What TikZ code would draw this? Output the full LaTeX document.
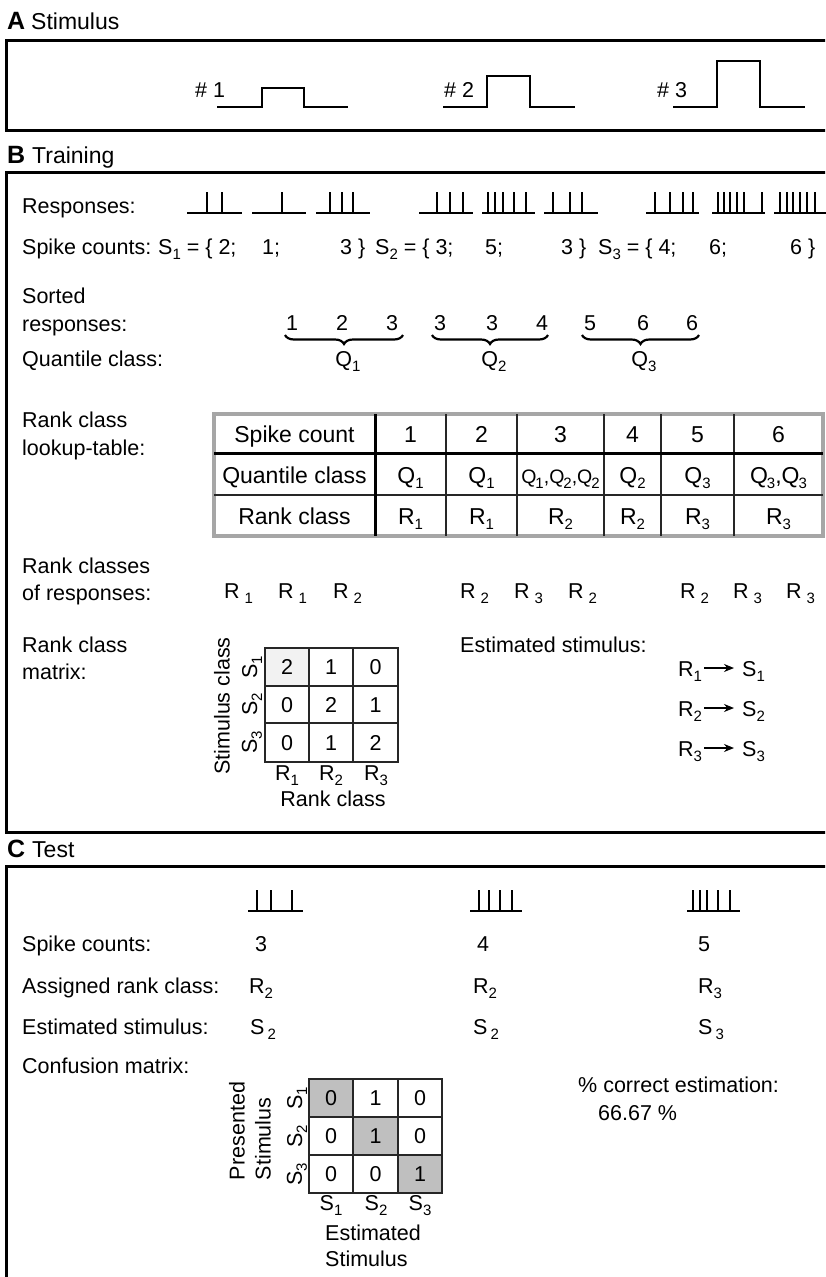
\documentclass[tikz,border=0pt]{standalone}
\usepackage{fontspec}
\setmainfont{Liberation Sans}
\usetikzlibrary{decorations.pathreplacing,arrows.meta,calc}
\newcommand{\mysub}[1]{\raisebox{-5pt}{\fontsize{15}{15}\selectfont #1}}
\newcommand{\spiketrain}[4]{%
  \draw[spk] (#1,#3) -- (#2,#3);
  \foreach \s in {#4} {\draw[spk] (\s,#3) -- (\s,#3-21);}}
\begin{document}
\begin{tikzpicture}[x=1pt,y=-1pt,
  txt/.style={anchor=base west, inner sep=0pt, font=\fontsize{21.5}{25}\selectfont},
  ctxt/.style={anchor=base, inner sep=0pt, font=\fontsize{21.5}{25}\selectfont},
  tbl/.style={anchor=base, inner sep=0pt, font=\fontsize{23}{26}\selectfont},
  ttl/.style={anchor=base west, inner sep=0pt, font=\fontsize{23}{26}\selectfont},
  ttlb/.style={anchor=base west, inner sep=0pt, font=\fontsize{25}{26}\selectfont\bfseries},
  panel/.style={line width=3pt},
  wave/.style={line width=2.8pt},
  spk/.style={line width=2.6pt},
  grid/.style={line width=1.1pt, draw=black!85},
  brc/.style={line width=2.2pt, decorate, decoration={brace, mirror, amplitude=9pt}},
  arr/.style={line width=1.3pt, -{Stealth[length=10pt,width=8pt]}}]
\useasboundingbox (0,0) rectangle (825,1277);
\fill[white] (0,0) rectangle (825,1277);
% panel frames
\begin{scope}
\clip (0,0) rectangle (825,1277);
\draw[panel] (6,40) rectangle (845,130);
\draw[panel] (6,172) rectangle (845,832);
\draw[panel] (6,866) rectangle (845,1300);
\end{scope}
% ---------- A ----------
\node[ttlb] (tA) at (7,29) {A};
\node[ttl] (tAs) at (31,29) {Stimulus};
\node[txt] (n1) at (195,97) {\# 1};
\node[txt] (n2) at (444,97) {\# 2};
\node[txt] (n3) at (657,97) {\# 3};
\draw[wave] (217,107) -- (262,107) -- (262,88) -- (304,88) -- (304,107) -- (348,107);
\draw[wave] (443,107) -- (487,107) -- (487,76) -- (530,76) -- (530,107) -- (575,107);
\draw[wave] (673,107) -- (717,107) -- (717,61) -- (760,61) -- (760,107) -- (805,107);
% ---------- B ----------
\node[ttlb] (tB) at (7,163) {B};
\node[ttl] (tBs) at (32,163) {Training};
\node[txt] (lresp) at (22,213) {Responses:};
\spiketrain{187}{242}{213}{207,222}
\spiketrain{252}{306}{213}{282}
\spiketrain{316}{370}{213}{330,342,353}
\spiketrain{419}{473}{213}{437,450,463}
\spiketrain{482}{535}{213}{488,495,503,514,526}
\spiketrain{544}{598}{213}{553,570,582}
\spiketrain{646}{699}{213}{655,670,683,693}
\spiketrain{712}{765}{213}{718,724,730,737,744,762}
\spiketrain{774}{830}{213}{780,787,793,800,807,815}
\node[txt] (lsc) at (22,254) {Spike counts:};
\node[txt] (sc1a) at (158,254) {S\mysub{1} = \{ 2;};
\node[txt] (sc1b) at (262,254) {1;};
\node[txt] (sc1c) at (340,254) {3 \}};
\node[txt] (sc2a) at (375,254) {S\mysub{2} = \{ 3;};
\node[txt] (sc2b) at (485,254) {5;};
\node[txt] (sc2c) at (561,254) {3 \}};
\node[txt] (sc3a) at (598,254) {S\mysub{3} = \{ 4;};
\node[txt] (sc3b) at (709,254) {6;};
\node[txt] (sc3c) at (790,254) {6 \}};
\node[txt] (lsort1) at (22,303) {Sorted};
\node[txt] (lsort2) at (22,331) {responses:};
\foreach \x/\v [count=\i] in {292/1,342/2,392/3,440/3,492/3,542/4,590/5,643/6,692/6}
  \node[ctxt] (sr\i) at (\x,330) {\v};
\draw[brc] (285,335) -- (403,335);
\draw[brc] (432,335) -- (548,335);
\draw[brc] (582,335) -- (699,335);
\node[txt] (lqc) at (22,366) {Quantile class:};
\node[ctxt] (q1) at (348,366) {Q\mysub{1}};
\node[ctxt] (q2) at (494,366) {Q\mysub{2}};
\node[ctxt] (q3) at (644,366) {Q\mysub{3}};
% lookup table
\node[txt] (lrc1) at (22,427) {Rank class};
\node[txt] (lrc2) at (22,455) {lookup-table:};
\draw[line width=3.5pt, draw=black!35] (214,414) rectangle (823,536);
\foreach \x in {446,517,604,661,734} \draw[grid] (\x,414) -- (\x,536);
\draw[grid] (214,495) -- (823,495);
\draw[line width=3pt] (214,453) -- (823,453);
\draw[line width=3pt] (375,414) -- (375,536);
\node[tbl] (th0) at (294.5,442) {Spike count};
\foreach \x/\v [count=\i] in {410.5/1,481.5/2,560.5/3,632.5/4,697.5/5,778.5/6}
  \node[tbl] (th\i) at (\x,442) {\v};
\node[tbl] (tq0) at (294.5,483) {Quantile class};
\node[tbl] (tq1) at (410.5,483) {Q\mysub{1}};
\node[tbl] (tq2) at (481.5,483) {Q\mysub{1}};
\node[tbl, font=\fontsize{19.5}{23}\selectfont] (tq3) at (560.5,483) {Q\kern-1pt\mysub{1},Q\kern-1pt\mysub{2},Q\kern-1pt\mysub{2}};
\node[tbl] (tq4) at (632.5,483) {Q\mysub{2}};
\node[tbl] (tq5) at (697.5,483) {Q\mysub{3}};
\node[tbl] (tq6) at (778.5,483) {Q\kern-1pt\mysub{3},Q\kern-1pt\mysub{3}};
\node[tbl] (tr0) at (294.5,524) {Rank class};
\foreach \x/\v [count=\i] in {410.5/1,481.5/1,560.5/2,632.5/2,697.5/3,778.5/3}
  \node[tbl] (tr\i) at (\x,524) {R\mysub{\v}};
% rank classes of responses
\node[txt] (lrr1) at (22,573) {Rank classes};
\node[txt] (lrr2) at (22,600) {of responses:};
\foreach \x/\v [count=\i] in {224/1,278/1,333/2,460/2,514/3,568/2,680/2,733/3,786/3}
  \node[txt] (rr\i) at (\x,598) {R\hspace{5pt}\mysub{\v}};
% rank class matrix
\node[txt] (lrm1) at (22,652) {Rank class};
\node[txt] (lrm2) at (22,679) {matrix:};
\fill[black!5] (265,648) rectangle (309,686);
\draw[grid] (265,648) rectangle (398,762);
\draw[grid] (309,648) -- (309,762) (353,648) -- (353,762)
            (265,686) -- (398,686) (265,723) -- (398,723);
\node[ctxt] (m11) at (287,674) {2};
\node[ctxt] (m12) at (331,674) {1};
\node[ctxt] (m13) at (375.5,674) {0};
\node[ctxt] (m21) at (287,712) {0};
\node[ctxt] (m22) at (331,712) {2};
\node[ctxt] (m23) at (375.5,712) {1};
\node[ctxt] (m31) at (287,750) {0};
\node[ctxt] (m32) at (331,750) {1};
\node[ctxt] (m33) at (375.5,750) {2};
\foreach \v/\y in {1/667,2/704.5,3/742.5}
  \node[rotate=90, inner sep=0pt, font=\fontsize{21.5}{25}\selectfont] (ms\v) at (252,\y) {S\mysub{\v}};
\node[rotate=90, inner sep=0pt, font=\fontsize{21.5}{25}\selectfont] (msl) at (222,706) {Stimulus class};
\foreach \v/\x in {1/287,2/331,3/376}
  \node[ctxt] (mr\v) at (\x,780) {R\mysub{\v}};
\node[ctxt] (mrl) at (333,806) {Rank class};
% estimated stimulus mapping
\node[txt] (les) at (460,652) {Estimated stimulus:};
\foreach \v/\y in {1/676,2/716,3/756}{
  \node[txt] (er\v) at (678,\y) {R\mysub{\v}};
  \node[txt] (es\v) at (742,\y) {S\mysub{\v}};
  \draw[arr] ($(er\v.base east)+(2,-8)$) -- ($(es\v.base west)+(-8,-8)$);
}
% ---------- C ----------
\node[ttlb] (tC) at (7,857) {C};
\node[ttl] (tCs) at (32,857) {Test};
\spiketrain{248}{303}{911}{257,271,292}
\spiketrain{470}{522}{911}{479,489,500,512}
\spiketrain{687}{740}{911}{693,700,707,718,730}
\node[txt] (csc) at (22,951) {Spike counts:};
\node[ctxt] (cv1) at (261,951) {3};
\node[ctxt] (cv2) at (483,951) {4};
\node[ctxt] (cv3) at (704,951) {5};
\node[txt] (car) at (22,993) {Assigned rank class:};
\node[txt] (cr1) at (249,993) {R\mysub{2}};
\node[txt] (cr2) at (473,993) {R\mysub{2}};
\node[txt] (cr3) at (698,993) {R\mysub{3}};
\node[txt] (ces) at (22,1034) {Estimated stimulus:};
\node[txt] (cs1) at (250,1034) {S\hspace{3pt}\mysub{2}};
\node[txt] (cs2) at (473,1034) {S\hspace{3pt}\mysub{2}};
\node[txt] (cs3) at (698,1034) {S\hspace{3pt}\mysub{3}};
\node[txt] (ccm) at (22,1073) {Confusion matrix:};
% confusion matrix
\fill[black!25] (309,1079) rectangle (353,1117);
\fill[black!25] (353,1117) rectangle (398,1155);
\fill[black!25] (398,1155) rectangle (442,1193);
\draw[grid] (309,1079) rectangle (442,1193);
\draw[grid] (353,1079) -- (353,1193) (398,1079) -- (398,1193)
            (309,1117) -- (442,1117) (309,1155) -- (442,1155);
\node[ctxt] (c11) at (331,1105) {0};
\node[ctxt] (c12) at (375.5,1105) {1};
\node[ctxt] (c13) at (420,1105) {0};
\node[ctxt] (c21) at (331,1143) {0};
\node[ctxt] (c22) at (375.5,1143) {1};
\node[ctxt] (c23) at (420,1143) {0};
\node[ctxt] (c31) at (331,1181) {0};
\node[ctxt] (c32) at (375.5,1181) {0};
\node[ctxt] (c33) at (420,1181) {1};
\foreach \v/\y in {1/1098,2/1136,3/1174}
  \node[rotate=90, inner sep=0pt, font=\fontsize{21.5}{25}\selectfont] (cs\v r) at (297,\y) {S\mysub{\v}};
\node[rotate=90, inner sep=0pt, align=left, font=\fontsize{21.5}{26}\selectfont] (cpl) at (250,1131) {Presented\\Stimulus};
\foreach \v/\x in {1/331,2/376,3/420}
  \node[ctxt] (cc\v) at (\x,1210) {S\mysub{\v}};
\node[txt] (cel1) at (325,1240) {Estimated};
\node[txt] (cel2) at (325,1266) {Stimulus};
\node[txt] (pc1) at (578,1092) {\% correct estimation:};
\node[txt] (pc2) at (598,1120) {66.67 \%};
\end{tikzpicture}
\end{document}
